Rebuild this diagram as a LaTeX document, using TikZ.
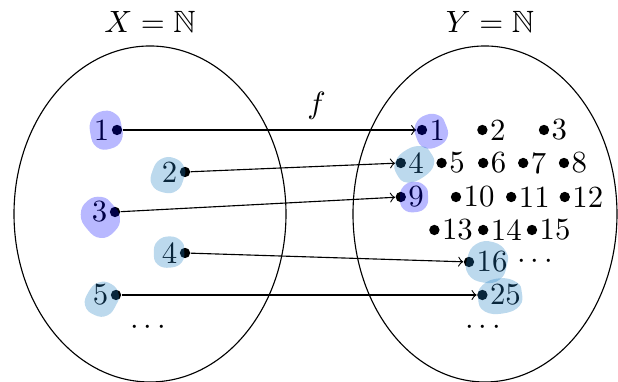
\documentclass[tikz,border=0pt,11pt]{standalone}
\usepackage{amssymb}
\definecolor{skyblob}{rgb}{0.13,0.5,0.77}
\tikzset{
  ldot/.style={circle, fill, inner sep=1.3pt, label={[inner sep=0.5pt]left:#1}},
  rdot/.style={circle, fill, inner sep=1.3pt, label={[inner sep=0.5pt]right:#1}},
  moredots/.style={inner sep=0pt},
  oddblob/.style={fill=blue, fill opacity=0.28},
  evenblob/.style={fill=skyblob, fill opacity=0.3},
}
% blob: style, centre, x radius, y radius, rotation
\newcommand{\blob}[5]{%
  \fill[#1, shift={(#2)}, rotate=#5, xscale=#3, yscale=#4] plot[smooth cycle, tension=0.8]
    coordinates {(1,0.1) (0.8,0.7) (0.05,1) (-0.75,0.7) (-1,-0.05) (-0.75,-0.8) (0.1,-1) (0.85,-0.65)};}
\begin{document}
\begin{tikzpicture}
        \useasboundingbox (0,0) rectangle (7.725,4.775);

        % the two sets
        \draw (1.875,2.1) ellipse [x radius=1.7, y radius=2.1];
        \draw (6.0625,2.1) ellipse [x radius=1.65, y radius=2.1];
        \node (setX) at (1.875,4.5) {$X=\mathbb{N}$};
        \node (setY) at (6.125,4.5) {$Y=\mathbb{N}$};

        % domain
        \node [ldot=1] (l1) at (1.4625,3.15) {};
        \node [ldot=2] (l2) at (2.3125,2.625) {};
        \node [ldot=3] (l3) at (1.4375,2.125) {};
        \node [ldot=4] (l4) at (2.3125,1.6125) {};
        \node [ldot=5] (l5) at (1.45,1.0875) {};
        \node [moredots] (ldots) at (1.85,0.675) {$\cdots$};

        % codomain
        \node [rdot=1] (r1) at (5.275,3.15) {};
        \node [rdot=2] (r2) at (6.03,3.15) {};
        \node [rdot=3] (r3) at (6.8,3.15) {};
        \node [rdot=4] (r4) at (5.01,2.7375) {};
        \node [rdot=5] (r5) at (5.52,2.7375) {};
        \node [rdot=6] (r6) at (6.04,2.7375) {};
        \node [rdot=7] (r7) at (6.54,2.7375) {};
        \node [rdot=8] (r8) at (7.05,2.7375) {};
        \node [rdot=9] (r9) at (5.01,2.3125) {};
        \node [rdot=10] (r10) at (5.7,2.3125) {};
        \node [rdot=11] (r11) at (6.39,2.3125) {};
        \node [rdot=12] (r12) at (7.06,2.3125) {};
        \node [rdot=13] (r13) at (5.43,1.9) {};
        \node [rdot=14] (r14) at (6.04,1.9) {};
        \node [rdot=15] (r15) at (6.65,1.9) {};
        \node [rdot=16] (r16) at (5.8625,1.5) {};
        \node [moredots] (rdotsA) at (6.69,1.5) {$\cdots$};
        \node [rdot=25] (r25) at (6.03,1.0875) {};
        \node [moredots] (rdotsB) at (6.04,0.675) {$\cdots$};

        % the map
        \draw [->] (l1) -- (r1) node [pos=0.66, above] {$f$};
        \draw [->] (l2) -- (r4);
        \draw [->] (l3) -- (r9);
        \draw [->] (l4) -- (r16);
        \draw [->] (l5) -- (r25);

        % highlights
        \blob{oddblob}{1.325,3.15}{0.2}{0.24}{10}
        \blob{evenblob}{2.1,2.5875}{0.2}{0.225}{-20}
        \blob{oddblob}{1.25,2.0625}{0.22}{0.255}{40}
        \blob{evenblob}{2.1125,1.625}{0.19}{0.195}{0}
        \blob{evenblob}{1.275,1.0375}{0.19}{0.22}{-30}
        \blob{oddblob}{5.3875,3.1375}{0.2}{0.21}{20}
        \blob{evenblob}{5.175,2.725}{0.25}{0.2}{30}
        \blob{oddblob}{5.175,2.3125}{0.175}{0.19}{0}
        \blob{evenblob}{6.0875,1.5}{0.25}{0.26}{-15}
        \blob{evenblob}{6.25,1.075}{0.275}{0.22}{5}
\end{tikzpicture}
\end{document}
